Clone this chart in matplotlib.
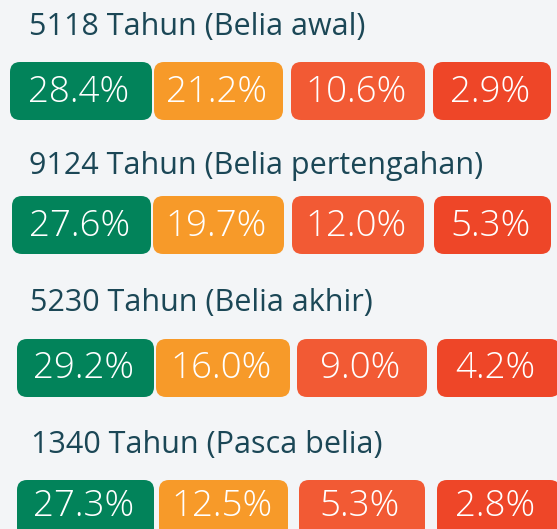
import matplotlib
matplotlib.use("Agg")
import matplotlib.pyplot as plt
from matplotlib.patches import FancyBboxPatch
from matplotlib import font_manager

# ---- data ----
titles = ["5118 Tahun (Belia awal)",
          "9124 Tahun (Belia pertengahan)",
          "5230 Tahun (Belia akhir)",
          "1340 Tahun (Pasca belia)"]
values_col1 = [28.4, 27.6, 29.2, 27.3]
values_col2 = [21.2, 19.7, 16.0, 12.5]
values_col3 = [10.6, 12.0, 9.0, 5.3]
values_col4 = [2.9, 5.3, 4.2, 2.8]
col_colors = ["#02835a", "#f79a29", "#f25a34", "#ee4628"]

# ---- layout (pixels) ----
W, H = 557, 529
title_y = [27, 166, 303, 445]
box_top = [62, 196, 339, 480]
box_h = 58
text_dy = [30, 30, 30, 26]
title_x = [29, 29, 30, 31]
box_lefts = [[10, 154, 291, 433],
             [12, 153, 292, 434],
             [17, 156, 297, 437],
             [17, 159, 299, 437]]
box_rights = [[152, 283, 425, 551],
              [151, 284, 424, 551],
              [154, 290, 427, 560],
              [154, 288, 425, 560]]

names = {f.name for f in font_manager.fontManager.ttflist}
fam = "Open Sans" if "Open Sans" in names else "DejaVu Sans"

fig = plt.figure(figsize=(W / 100, H / 100), dpi=100)
fig.patch.set_facecolor("#f3f5f7")
ax = fig.add_axes([0, 0, 1, 1])
ax.set_xlim(0, W)
ax.set_ylim(H, 0)
ax.axis("off")

cols = [values_col1, values_col2, values_col3, values_col4]
for r, t in enumerate(titles):
    ax.text(title_x[r], title_y[r], t, fontsize=22, color="#1b4756",
            family=fam, ha="left", va="center")
    for c in range(4):
        x0 = box_lefts[r][c]
        x1 = box_rights[r][c]
        y0 = box_top[r]
        p = FancyBboxPatch((x0, y0), x1 - x0, box_h,
                           boxstyle="round,pad=0,rounding_size=10",
                           fc=col_colors[c], ec="none", zorder=2)
        ax.add_patch(p)
        ax.text((x0 + min(x1, W)) / 2 - 2, y0 + text_dy[r],
                f"{cols[c][r]:.1f}%", fontsize=26.5, color="white",
                family=fam, weight="light", ha="center", va="center", zorder=3)

fig.savefig("out.png", dpi=100, facecolor=fig.get_facecolor())
